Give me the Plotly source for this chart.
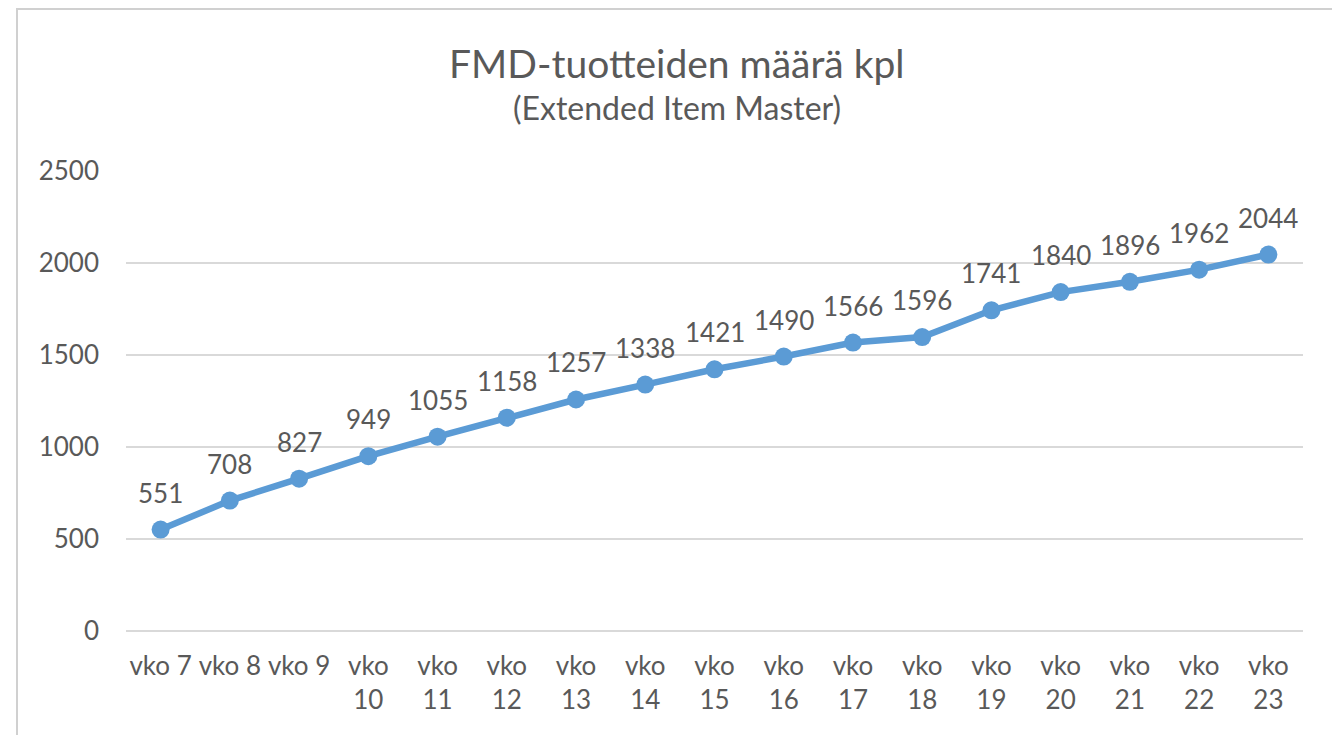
from plotly import graph_objects as go

weeks = [f"vko {n}" if n < 10 else f"vko<br>{n}" for n in range(7, 24)]
counts = [551, 708, 827, 949, 1055, 1158, 1257, 1338, 1421, 1490,
          1566, 1596, 1741, 1840, 1896, 1962, 2044]
y_ticks = [0, 500, 1000, 1500, 2000, 2500]

title_text = "FMD-tuotteiden määrä kpl"
subtitle_text = "(Extended Item Master)"

text_color = "#595959"
line_color = "#5B9BD5"
grid_color = "#D9D9D9"
font_family = "Lato, Calibri, sans-serif"

# the page body has an 8px margin, so figure pixels = page pixels - 8
width, height = 1332, 727
left, right, top, bottom = 118, 1295, 162, 623

plot_w = right - left
plot_h = bottom - top


def px_x(x):
    return (x - left) / plot_w


def px_y(y):
    return (bottom - y) / plot_h


figure = go.Figure()
figure.add_scatter(
    x=list(range(len(weeks))),
    y=counts,
    mode="lines+markers",
    line=dict(color=line_color, width=6.5),
    marker=dict(size=18, color=line_color),
    cliponaxis=False,
    showlegend=False,
    hovertemplate="%{y}<extra></extra>",
)

# data labels above points
for i, value in enumerate(counts):
    figure.add_annotation(
        x=i, y=value, text=str(value), showarrow=False,
        yshift=37, font=dict(size=26, color=text_color, family=font_family),
    )

figure.add_annotation(
    text=title_text, x=px_x(669), y=px_y(55), xref="paper", yref="paper",
    xanchor="center", yanchor="middle", showarrow=False,
    font=dict(size=39, color=text_color, family=font_family),
)
figure.add_annotation(
    text=subtitle_text, x=px_x(669), y=px_y(100), xref="paper", yref="paper",
    xanchor="center", yanchor="middle", showarrow=False,
    font=dict(size=32, color=text_color, family=font_family),
)

# chart frame
figure.add_shape(
    type="rect", xref="paper", yref="paper",
    x0=px_x(9), x1=px_x(1328), y0=px_y(760), y1=px_y(1),
    line=dict(color="#D0D0D0", width=2), fillcolor="rgba(0,0,0,0)", layer="below",
)

figure.update_xaxes(
    tickmode="array",
    tickvals=list(range(len(weeks))),
    ticktext=weeks,
    range=[-0.5, len(weeks) - 0.5],
    showgrid=False,
    showline=False,
    zeroline=False,
    ticks="",
    ticklabelstandoff=17,
    tickfont=dict(size=26, color=text_color, family=font_family),
)
figure.update_yaxes(
    range=[0, 2503],
    tickmode="array",
    tickvals=y_ticks,
    gridcolor=grid_color,
    gridwidth=1.5,
    zeroline=True,
    zerolinecolor=grid_color,
    zerolinewidth=1.5,
    showline=False,
    ticklabelstandoff=26,
    tickfont=dict(size=26, color=text_color, family=font_family),
)
figure.update_layout(
    width=width,
    height=height,
    template="plotly_white",
    paper_bgcolor="#ffffff",
    plot_bgcolor="#ffffff",
    margin=dict(l=left, r=width - right, t=top, b=height - bottom, autoexpand=False),
    font=dict(family=font_family, color=text_color),
)

figure.write_html("out.html")
